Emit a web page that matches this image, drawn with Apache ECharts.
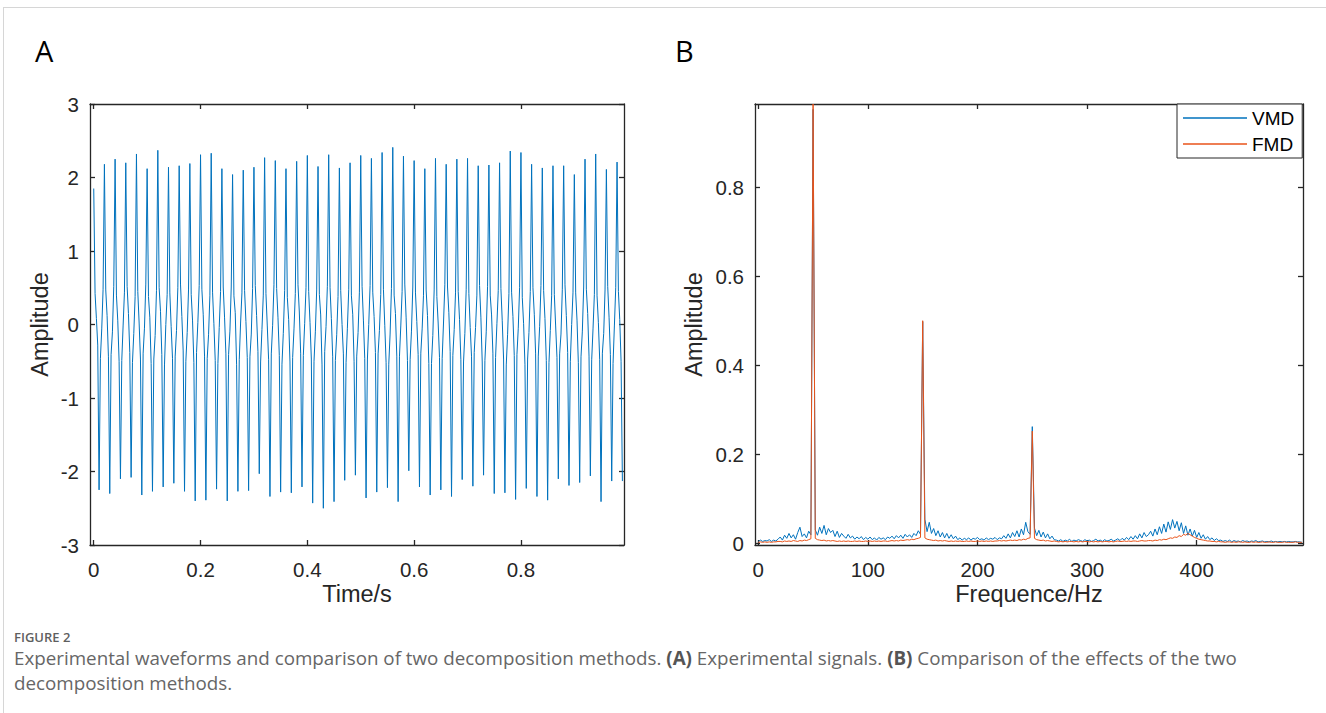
<!DOCTYPE html>
<html>
<head>
<meta charset="utf-8">
<script src="https://cdn.jsdelivr.net/npm/echarts@6/dist/echarts.min.js"></script>
<style>
html,body{margin:0;padding:0;background:#fff;}
#chart{width:1326px;height:713px;}
</style>
</head>
<body>
<div id="chart"></div>
<script>
// ---------- Panel A: experimental signal (sample step 0.0025 s) ----------
const sampleStepA = 0.0025;
const signalA = [
 1.85, 0.42, 0.08, -0.28, -2.25, -0.46, -0.06, 0.48,
 2.18, 0.47, 0.12, -0.44, -2.30, -0.41, -0.10, 0.52,
 2.25, 0.40, 0.05, -0.50, -2.10, -0.49, -0.02, 0.44,
 2.20, 0.52, 0.15, -0.38, -2.08, -0.52, -0.12, 0.38,
 2.32, 0.45, 0.02, -0.47, -2.32, -0.39, -0.05, 0.55,
 2.12, 0.38, 0.10, -0.53, -2.27, -0.47, -0.15, 0.46,
 2.37, 0.50, 0.18, -0.41, -2.21, -0.55, 0.00, 0.41,
 2.14, 0.43, -0.03, -0.46, -2.16, -0.43, -0.08, 0.50,
 2.16, 0.55, 0.11, -0.36, -2.27, -0.50, -0.11, 0.47,
 2.19, 0.41, 0.06, -0.52, -2.40, -0.38, 0.03, 0.53,
 2.31, 0.48, 0.14, -0.43, -2.39, -0.46, -0.14, 0.39,
 2.33, 0.44, 0.01, -0.49, -2.24, -0.53, -0.04, 0.45,
 2.12, 0.51, 0.09, -0.40, -2.40, -0.41, -0.09, 0.51,
 2.04, 0.39, 0.16, -0.54, -2.27, -0.48, 0.02, 0.43,
 2.10, 0.46, 0.04, -0.45, -2.26, -0.44, -0.13, 0.49,
 2.14, 0.53, 0.12, -0.37, -2.03, -0.51, -0.07, 0.40,
 2.27, 0.42, -0.02, -0.48, -2.34, -0.40, -0.01, 0.54,
 2.23, 0.49, 0.10, -0.42, -2.28, -0.54, -0.12, 0.46,
 2.12, 0.37, 0.07, -0.51, -2.29, -0.45, -0.06, 0.42,
 2.22, 0.54, 0.17, -0.39, -2.21, -0.42, 0.01, 0.50,
 2.30, 0.45, 0.03, -0.47, -2.43, -0.50, -0.10, 0.47,
 2.15, 0.41, 0.13, -0.55, -2.50, -0.37, -0.03, 0.52,
 2.31, 0.50, 0.08, -0.44, -2.41, -0.49, -0.14, 0.38,
 2.13, 0.46, 0.00, -0.40, -2.12, -0.52, -0.05, 0.48,
 2.20, 0.39, 0.14, -0.50, -2.05, -0.43, -0.11, 0.44,
 2.30, 0.52, 0.06, -0.46, -2.36, -0.47, 0.00, 0.53,
 2.26, 0.44, 0.11, -0.38, -2.28, -0.40, -0.08, 0.41,
 2.34, 0.48, -0.01, -0.52, -2.22, -0.54, -0.13, 0.49,
 2.41, 0.40, 0.15, -0.43, -2.41, -0.44, -0.02, 0.45,
 2.29, 0.55, 0.09, -0.49, -1.99, -0.48, -0.09, 0.51,
 2.23, 0.43, 0.04, -0.41, -2.21, -0.39, -0.06, 0.39,
 2.12, 0.47, 0.12, -0.53, -2.32, -0.53, -0.15, 0.47,
 2.26, 0.38, 0.02, -0.45, -2.25, -0.46, 0.02, 0.54,
 2.18, 0.51, 0.16, -0.37, -2.34, -0.42, -0.07, 0.43,
 2.25, 0.45, 0.07, -0.48, -2.11, -0.51, -0.12, 0.48,
 2.26, 0.42, -0.04, -0.44, -2.20, -0.38, -0.04, 0.40,
 2.16, 0.53, 0.10, -0.51, -2.05, -0.49, -0.10, 0.52,
 2.17, 0.40, 0.13, -0.39, -2.30, -0.45, 0.01, 0.46,
 2.20, 0.49, 0.05, -0.47, -2.29, -0.55, -0.14, 0.42,
 2.36, 0.44, 0.11, -0.42, -2.38, -0.41, -0.05, 0.50,
 2.34, 0.37, 0.01, -0.54, -2.23, -0.47, -0.11, 0.45,
 2.18, 0.50, 0.14, -0.40, -2.34, -0.43, -0.03, 0.53,
 2.13, 0.46, 0.08, -0.49, -2.39, -0.52, -0.08, 0.39,
 2.16, 0.41, -0.02, -0.45, -2.10, -0.40, -0.13, 0.48,
 2.16, 0.54, 0.12, -0.38, -2.19, -0.50, 0.00, 0.44,
 2.04, 0.43, 0.06, -0.52, -2.15, -0.44, -0.09, 0.51,
 2.25, 0.48, 0.15, -0.43, -2.06, -0.48, -0.06, 0.41,
 2.32, 0.39, 0.03, -0.48, -2.41, -0.39, -0.12, 0.47,
 2.11, 0.52, 0.10, -0.41, -2.13, -0.53, -0.02, 0.50,
 2.21, 0.45, 0.07, -0.50, -2.13
];
const ticksAx = [0, 0.2, 0.4, 0.6, 0.8];
const ticksAy = [-3, -2, -1, 0, 1, 2, 3];

// ---------- Panel B: amplitude spectra (frequency step 2 Hz) ----------
const freqStepB = 2;
const vmdB = [
 0.004,0.007,0.004,0.006,0.005,0.008,0.004,0.007,0.005,0.009,
 0.014,0.007,0.018,0.011,0.022,0.012,0.019,0.009,0.024,0.036,
 0.015,0.021,0.012,0.027,0.019,
 0.975,
 0.030,0.018,0.036,0.022,0.040,0.019,0.033,0.024,0.029,0.015,
 0.027,0.013,0.022,0.016,0.011,0.020,0.012,0.016,0.009,0.014,0.010,0.015,0.008,0.013,
 0.009,0.014,0.008,0.012,0.007,0.013,0.009,0.012,0.008,0.014,
 0.011,0.016,0.010,0.017,0.012,0.018,0.011,0.020,0.014,0.019,
 0.013,0.022,0.017,0.028,0.020,
 0.498,
 0.054,0.026,0.047,0.022,0.033,0.017,0.028,0.014,0.024,0.012,0.022,0.011,0.019,0.010,0.016,
 0.008,0.012,0.007,0.011,0.008,0.012,0.007,0.011,0.009,0.013,
 0.008,0.010,0.007,0.012,0.008,0.011,0.009,0.013,0.008,0.012,
 0.010,0.017,0.011,0.021,0.012,0.024,0.015,0.028,0.014,0.032,0.019,0.047,0.026,0.020,
 0.262,
 0.034,0.017,0.029,0.014,0.025,0.012,0.021,0.010,0.016,0.008,
 0.007,0.005,0.008,0.004,0.007,0.005,0.009,0.004,0.007,0.005,
 0.008,0.006,0.004,0.008,0.005,0.007,0.004,0.006,0.009,0.005,
 0.007,0.004,0.008,0.005,0.006,0.009,0.005,0.007,0.010,0.006,
 0.011,0.007,0.013,0.008,0.015,0.009,0.017,0.010,0.021,0.012,0.024,0.015,0.019,
 0.027,0.016,0.032,0.019,0.037,0.022,0.043,0.025,0.048,0.031,
 0.053,0.034,0.049,0.028,0.046,0.022,0.039,0.018,0.032,0.016,
 0.029,0.013,0.024,0.011,0.019,0.009,0.015,0.008,0.012,0.006,0.010,0.006,
 0.007,0.004,0.006,0.004,0.007,0.003,0.006,0.004,0.005,0.003,
 0.006,0.004,0.005,0.003,0.005,0.004,0.006,0.003,0.004,0.005,
 0.003,0.004,0.003,0.005,0.003,0.004,0.003,0.004,0.003,0.004,
 0.003,0.004,0.003,0.003,0.004,0.003,0.003,0.002
];
const fmdB = [
 0.002,0.003,0.002,0.003,0.002,0.003,0.002,0.003,0.003,0.004,
 0.004,0.003,0.005,0.004,0.005,0.004,0.006,0.005,0.004,0.006,
 0.005,0.007,0.006,0.008,0.010,
 0.987,
 0.011,0.008,0.007,0.006,0.007,0.005,0.006,0.005,0.006,0.005,
 0.004,0.005,0.004,0.005,0.004,0.005,0.004,0.004,0.005,0.004,0.005,0.004,0.004,0.005,
 0.004,0.005,0.004,0.005,0.004,0.005,0.004,0.005,0.005,0.004,
 0.005,0.006,0.005,0.006,0.005,0.007,0.006,0.007,0.008,0.007,
 0.009,0.008,0.010,0.011,0.013,
 0.500,
 0.012,0.009,0.008,0.007,0.006,0.007,0.005,0.006,0.005,0.006,
 0.005,0.004,0.005,0.004,0.005,
 0.004,0.005,0.004,0.004,0.005,0.004,0.005,0.004,0.004,0.005,
 0.004,0.005,0.004,0.005,0.004,0.005,0.004,0.005,0.005,0.006,
 0.005,0.006,0.005,0.006,0.007,0.006,0.007,0.006,0.008,0.007,0.009,0.008,0.011,0.012,
 0.252,
 0.011,0.008,0.007,0.006,0.007,0.005,0.006,0.005,0.004,0.005,
 0.004,0.003,0.004,0.003,0.004,0.003,0.004,0.004,0.003,0.004,
 0.003,0.004,0.003,0.004,0.004,0.003,0.004,0.003,0.004,0.003,
 0.004,0.003,0.004,0.004,0.003,0.004,0.003,0.004,0.005,0.004,
 0.004,0.005,0.004,0.005,0.004,0.005,0.005,0.004,0.005,0.006,0.005,0.005,0.006,
 0.006,0.005,0.007,0.006,0.008,0.007,0.009,0.008,0.010,0.012,
 0.011,0.014,0.013,0.017,0.015,0.020,0.018,0.022,0.019,0.016,
 0.013,0.011,0.009,0.008,0.007,0.006,0.005,0.005,0.004,0.004,0.003,0.004,
 0.003,0.003,0.002,0.003,0.003,0.002,0.003,0.002,0.003,0.003,
 0.002,0.003,0.002,0.002,0.003,0.002,0.003,0.002,0.002,0.003,
 0.002,0.002,0.003,0.002,0.002,0.003,0.002,0.002,0.002,0.003,
 0.002,0.002,0.002,0.002,0.003,0.002,0.002,0.002
];
const ticksBx = [0, 100, 200, 300, 400];
const ticksBy = [0, 0.2, 0.4, 0.6, 0.8];
const seriesNamesB = ['VMD', 'FMD'];

const panelLabels = ['A', 'B'];
const figureTag = 'FIGURE 2';
const captionLine1 = 'Experimental waveforms and comparison of two decomposition methods. {b|(A)} Experimental signals. {b|(B)} Comparison of the effects of the two';
const captionLine2 = 'decomposition methods.';

// ---------- build ----------
const dataA = signalA.map((v, i) => [+(i * sampleStepA).toFixed(4), v]);
const dataVMD = vmdB.map((v, i) => [i * freqStepB, v]);
const dataFMD = fmdB.map((v, i) => [i * freqStepB, v]);

const AX = '#262626';
const FONT = 'Liberation Sans';
const CAPFONT = 'Open Sans';
const TICKFS = 20.5;
const NAMEFS = 23.5;
const blue = '#0072BD';
const orange = '#E8531A';

function tickStyle(vals) {
  return { show: true, inside: true, length: 5, customValues: vals, lineStyle: { color: AX, width: 1.3 } };
}
function labelStyle(vals) {
  return { show: true, customValues: vals, fontSize: TICKFS, color: AX, fontFamily: FONT, margin: 11 };
}
function xLabelStyle(vals) {
  return { show: true, customValues: vals, fontSize: TICKFS, color: AX, fontFamily: FONT, margin: 14 };
}
function frameAxis(base) {
  return Object.assign({
    type: 'value',
    axisLine: { show: true, onZero: false, lineStyle: { color: AX, width: 1.3 } },
    splitLine: { show: false },
    axisLabel: { show: false },
    nameMoveOverlap: false
  }, base);
}
const nameStyle = { fontSize: NAMEFS, color: AX, fontFamily: FONT };

const chart = echarts.init(document.getElementById('chart'), null, { renderer: 'svg' });
chart.setOption({
  animation: false,
  backgroundColor: '#fff',
  grid: [
    { left: 90, top: 104, width: 534, height: 441 },
    { left: 755, top: 104, width: 548, height: 441 }
  ],
  xAxis: [
    frameAxis({ gridIndex: 0, position: 'bottom', min: -0.007, max: 0.993,
      axisTick: tickStyle(ticksAx), axisLabel: xLabelStyle(ticksAx),
      name: 'Time/s', nameLocation: 'middle', nameGap: 37, nameTextStyle: nameStyle }),
    frameAxis({ gridIndex: 0, position: 'top', min: -0.007, max: 0.993, axisTick: tickStyle(ticksAx) }),
    frameAxis({ gridIndex: 1, position: 'bottom', min: -3, max: 497,
      axisTick: tickStyle(ticksBx), axisLabel: xLabelStyle(ticksBx),
      name: 'Frequence/Hz', nameLocation: 'middle', nameGap: 37, nameTextStyle: nameStyle }),
    frameAxis({ gridIndex: 1, position: 'top', min: -3, max: 497, axisTick: tickStyle(ticksBx) })
  ],
  yAxis: [
    frameAxis({ gridIndex: 0, position: 'left', min: -3, max: 3,
      axisTick: tickStyle(ticksAy), axisLabel: labelStyle(ticksAy),
      name: 'Amplitude', nameLocation: 'middle', nameGap: 38, nameRotate: 90, nameTextStyle: nameStyle }),
    frameAxis({ gridIndex: 0, position: 'right', min: -3, max: 3, axisTick: tickStyle(ticksAy) }),
    frameAxis({ gridIndex: 1, position: 'left', min: -0.004, max: 0.987,
      axisTick: tickStyle(ticksBy), axisLabel: labelStyle(ticksBy),
      name: 'Amplitude', nameLocation: 'middle', nameGap: 49, nameRotate: 90, nameTextStyle: nameStyle }),
    frameAxis({ gridIndex: 1, position: 'right', min: -0.004, max: 0.987, axisTick: tickStyle(ticksBy) })
  ],
  legend: {
    data: seriesNamesB,
    orient: 'vertical',
    left: 1177, top: 104,
    padding: [4, 8, 4, 6],
    itemGap: 6,
    itemWidth: 64, itemHeight: 1.6,
    icon: 'rect',
    backgroundColor: '#fff',
    borderColor: AX, borderWidth: 1,
    borderRadius: 0,
    textStyle: { fontSize: 19, color: '#000', fontFamily: FONT, lineHeight: 20 }
  },
  series: [
    { type: 'line', name: 'signal', xAxisIndex: 0, yAxisIndex: 0, data: dataA,
      showSymbol: false, symbol: 'none', lineStyle: { color: blue, width: 1 }, itemStyle: { color: blue } },
    { type: 'line', name: seriesNamesB[0], xAxisIndex: 2, yAxisIndex: 2, data: dataVMD,
      showSymbol: false, symbol: 'none', lineStyle: { color: blue, width: 1 }, itemStyle: { color: blue } },
    { type: 'line', name: seriesNamesB[1], xAxisIndex: 2, yAxisIndex: 2, data: dataFMD,
      showSymbol: false, symbol: 'none', lineStyle: { color: orange, width: 1 }, itemStyle: { color: orange } }
  ],
  graphic: [
    { type: 'line', shape: { x1: 3, y1: 7.5, x2: 1326, y2: 7.5 }, style: { stroke: '#d6d6d6', lineWidth: 1 } },
    { type: 'line', shape: { x1: 3.5, y1: 7, x2: 3.5, y2: 713 }, style: { stroke: '#d6d6d6', lineWidth: 1 } },
    { type: 'text', left: 35, top: 36, style: { text: panelLabels[0], fontSize: 29, fontFamily: CAPFONT, fill: '#000' } },
    { type: 'text', left: 675, top: 36, style: { text: panelLabels[1], fontSize: 29, fontFamily: CAPFONT, fill: '#000' } },
    { type: 'text', left: 14, top: 630, style: { text: figureTag, fontSize: 13, fontWeight: 600, fontFamily: CAPFONT, fill: '#5f5f5f' } },
    { type: 'text', left: 14, top: 648, style: { text: captionLine1, fontSize: 18.8, fontFamily: CAPFONT, fill: '#666',
        rich: { b: { fontWeight: 'bold', fontSize: 18.8, fontFamily: CAPFONT, fill: '#555' } } } },
    { type: 'text', left: 14, top: 673, style: { text: captionLine2, fontSize: 18.8, fontFamily: CAPFONT, fill: '#666' } }
  ]
});
</script>
</body>
</html>
